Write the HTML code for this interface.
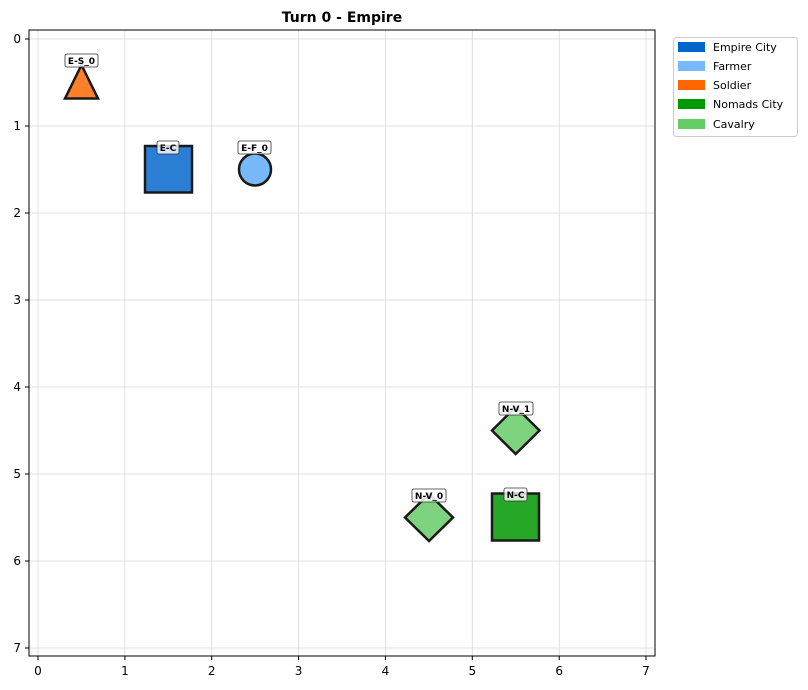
<!DOCTYPE html>
<html><head><meta charset="utf-8"><style>body{margin:0;background:#fff}svg{display:block}text{font-family:"DejaVu Sans","Liberation Sans",sans-serif}</style></head><body>
<svg width="808" height="690" viewBox="0 0 808 690">
<text x="342" y="22" font-size="14" font-weight="bold" text-anchor="middle">Turn 0 - Empire</text>
<g stroke="#d8d8d8" stroke-width="0.8">
<line x1="38" y1="30" x2="38" y2="656"/><line x1="124.9" y1="30" x2="124.9" y2="656"/><line x1="211.7" y1="30" x2="211.7" y2="656"/><line x1="298.6" y1="30" x2="298.6" y2="656"/><line x1="385.4" y1="30" x2="385.4" y2="656"/><line x1="472.3" y1="30" x2="472.3" y2="656"/><line x1="559.2" y1="30" x2="559.2" y2="656"/><line x1="646" y1="30" x2="646" y2="656"/>
<line x1="29" y1="39" x2="655" y2="39"/><line x1="29" y1="126" x2="655" y2="126"/><line x1="29" y1="213" x2="655" y2="213"/><line x1="29" y1="300" x2="655" y2="300"/><line x1="29" y1="387" x2="655" y2="387"/><line x1="29" y1="474" x2="655" y2="474"/><line x1="29" y1="561" x2="655" y2="561"/><line x1="29" y1="648" x2="655" y2="648"/>
</g>
<rect x="29" y="30" width="626" height="626" fill="none" stroke="#000" stroke-width="1"/>
<g stroke="#000" stroke-width="1">
<line x1="38" y1="656" x2="38" y2="660"/><line x1="124.9" y1="656" x2="124.9" y2="660"/><line x1="211.7" y1="656" x2="211.7" y2="660"/><line x1="298.6" y1="656" x2="298.6" y2="660"/><line x1="385.4" y1="656" x2="385.4" y2="660"/><line x1="472.3" y1="656" x2="472.3" y2="660"/><line x1="559.2" y1="656" x2="559.2" y2="660"/><line x1="646" y1="656" x2="646" y2="660"/>
<line x1="25" y1="39" x2="29" y2="39"/><line x1="25" y1="126" x2="29" y2="126"/><line x1="25" y1="213" x2="29" y2="213"/><line x1="25" y1="300" x2="29" y2="300"/><line x1="25" y1="387" x2="29" y2="387"/><line x1="25" y1="474" x2="29" y2="474"/><line x1="25" y1="561" x2="29" y2="561"/><line x1="25" y1="648" x2="29" y2="648"/>
</g>
<g font-size="12" text-anchor="middle">
<text x="38" y="675">0</text><text x="124.9" y="675">1</text><text x="211.7" y="675">2</text><text x="298.6" y="675">3</text><text x="385.4" y="675">4</text><text x="472.3" y="675">5</text><text x="559.2" y="675">6</text><text x="646" y="675">7</text>
</g>
<g font-size="12" text-anchor="end">
<text x="21" y="43">0</text><text x="21" y="130">1</text><text x="21" y="217">2</text><text x="21" y="304">3</text><text x="21" y="391">4</text><text x="21" y="478">5</text><text x="21" y="565">6</text><text x="21" y="652">7</text>
</g>
<g stroke="#1a1a1a" stroke-width="2.5" stroke-linejoin="miter">
<polygon points="81.5,65 98,98.5 65,98.5" fill="#ff7f2a"/>
<rect x="145" y="146" width="47" height="46.5" fill="#2a7fd5"/>
<circle cx="255" cy="169.5" r="16" fill="#77b8f8"/>
<polygon points="515.7,407 539.5,430.5 515.7,454 492,430.5" fill="#7ed37e"/>
<polygon points="429,494 453,517.5 429,541 405,517.5" fill="#7ed37e"/>
<rect x="492" y="493.5" width="47" height="47" fill="#27a727"/>
</g>
<g font-size="9" font-weight="bold" text-anchor="middle">
<rect x="65" y="54" width="33" height="13" rx="2" fill="#fff" fill-opacity="0.85" stroke="#333" stroke-width="0.8"/><text x="81.5" y="64">E-S_0</text>
<rect x="157" y="141" width="22" height="13" rx="2" fill="#fff" fill-opacity="0.8" stroke="#333" stroke-width="0.8"/><text x="168" y="151">E-C</text>
<rect x="238" y="141" width="33" height="13" rx="2" fill="#fff" fill-opacity="0.85" stroke="#333" stroke-width="0.8"/><text x="254.5" y="151">E-F_0</text>
<rect x="499" y="402" width="34" height="13" rx="2" fill="#fff" fill-opacity="0.85" stroke="#333" stroke-width="0.8"/><text x="516" y="412">N-V_1</text>
<rect x="412" y="489" width="34" height="13" rx="2" fill="#fff" fill-opacity="0.85" stroke="#333" stroke-width="0.8"/><text x="429" y="499">N-V_0</text>
<rect x="504" y="488" width="23" height="13" rx="2" fill="#fff" fill-opacity="0.8" stroke="#333" stroke-width="0.8"/><text x="515.5" y="498">N-C</text>
</g>
<rect x="673.5" y="37.5" width="124" height="99" rx="3" fill="#fff" stroke="#ccc"/>
<g font-size="11">
<rect x="678" y="42" width="27" height="10" fill="#0066cc"/><text x="713" y="51">Empire City</text>
<rect x="678" y="61" width="27" height="10" fill="#77b8ff"/><text x="713" y="70">Farmer</text>
<rect x="678" y="80" width="27" height="10" fill="#ff6600"/><text x="713" y="89">Soldier</text>
<rect x="678" y="99" width="27" height="10" fill="#009900"/><text x="713" y="108">Nomads City</text>
<rect x="678" y="119" width="27" height="10" fill="#66cc66"/><text x="713" y="128">Cavalry</text>
</g>
</svg>
</body></html>
